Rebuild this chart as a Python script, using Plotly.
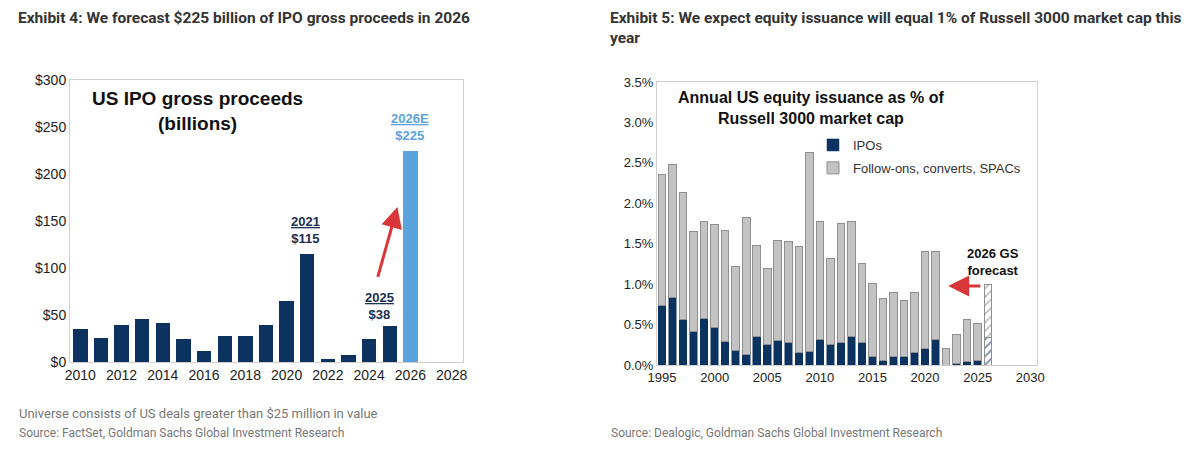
import plotly.graph_objects as go

# Exhibit 4: US IPO gross proceeds ($bn)
ipo_years = list(range(2010, 2027))
ipo_proceeds = [35, 26, 39, 46, 42, 24, 12, 28, 28, 39, 65, 115, 3.5, 7, 24, 38, 225]

# Exhibit 5: equity issuance as % of Russell 3000 market cap
iss_years = list(range(1995, 2026))
iss_total = [2.35, 2.48, 2.13, 1.65, 1.77, 1.74, 1.66, 1.22, 1.82, 1.48,
             1.19, 1.54, 1.53, 1.47, 2.63, 1.77, 1.32, 1.75, 1.77, 1.26,
             1.01, 0.82, 0.90, 0.80, 0.90, 1.40, 1.40, 0.21, 0.38, 0.56, 0.51]
iss_ipo = [0.74, 0.84, 0.56, 0.41, 0.58, 0.47, 0.29, 0.18, 0.13, 0.35,
           0.25, 0.30, 0.28, 0.16, 0.17, 0.31, 0.25, 0.28, 0.35, 0.28,
           0.11, 0.05, 0.11, 0.11, 0.16, 0.20, 0.31, 0.0, 0.02, 0.04, 0.06]
iss_other = [round(t - i, 2) for t, i in zip(iss_total, iss_ipo)]
fc_year = [2026]
fc_ipo = [0.34]
fc_other = [0.66]

navy = '#0c3260'
light_blue = '#5ba3dc'
gray = '#c3c3c3'
gray_line = '#8f8f8f'
chart_font = 'Liberation Sans, Arial, sans-serif'
page_font = 'Roboto, sans-serif'

OFF = 8  # margem padrão do <body> da página
W, H = 1198 - OFF, 453 - OFF

def px(x, y):  # converte pixels da janela para coordenadas paper
    return (x - OFF) / W, 1 - (y - OFF) / H

def dom_x(a, b):
    return [(a - OFF) / W, (b - OFF) / W]

def dom_y(top, bottom):
    return [1 - (bottom - OFF) / H, 1 - (top - OFF) / H]

fig = go.Figure()

# Gráfico da esquerda
fig.add_trace(go.Bar(x=ipo_years, y=ipo_proceeds, width=0.7,
                     marker=dict(color=[light_blue if y == 2026 else navy for y in ipo_years], line_width=0),
                     showlegend=False, xaxis='x', yaxis='y'))

# Gráfico da direita
fig.add_trace(go.Bar(x=iss_years, y=iss_ipo, width=0.72, name='IPOs', legendgroup='a',
                     marker=dict(color=navy, line=dict(color=navy, width=0.5)),
                     xaxis='x2', yaxis='y2'))
fig.add_trace(go.Bar(x=iss_years, y=iss_other, width=0.72, name='Follow-ons, converts, SPACs', legendgroup='b',
                     marker=dict(color=gray, line=dict(color=gray_line, width=1)),
                     xaxis='x2', yaxis='y2'))
fig.add_trace(go.Bar(x=fc_year, y=fc_ipo, width=0.72, showlegend=False,
                     marker=dict(color='white', line=dict(color=gray_line, width=1),
                                 pattern=dict(shape='/', fgcolor=navy, bgcolor='white', size=6, solidity=0.35)),
                     xaxis='x2', yaxis='y2'))
fig.add_trace(go.Bar(x=fc_year, y=fc_other, width=0.72, showlegend=False,
                     marker=dict(color='white', line=dict(color=gray_line, width=1),
                                 pattern=dict(shape='/', fgcolor=gray_line, bgcolor='white', size=6, solidity=0.35)),
                     xaxis='x2', yaxis='y2'))

axis_style = dict(showline=True, linecolor='#cfcfcf', linewidth=1, mirror=True, showgrid=False,
                  zeroline=False, ticks='', automargin=False)

lx, ly = px(813, 130)
fig.update_layout(
    width=W, height=H,
    margin=dict(l=0, r=0, t=0, b=0, pad=0, autoexpand=False),
    paper_bgcolor='white', plot_bgcolor='white',
    barmode='stack',
    font=dict(family=chart_font, color='#222'),
    xaxis=dict(domain=dom_x(70, 463), range=[2009.5, 2028.55], dtick=2, anchor='y',
               tickfont_size=14, **axis_style),
    yaxis=dict(domain=dom_y(80, 362), range=[0, 300], dtick=50, tickprefix='$', anchor='x',
               tickfont_size=14, **axis_style),
    xaxis2=dict(domain=dom_x(657, 1037), range=[1994.52, 2030.64], dtick=5, anchor='y2',
                tickfont_size=13, **axis_style),
    yaxis2=dict(domain=dom_y(82, 365), range=[0, 3.5], dtick=0.5, tickformat='.1f',
                ticksuffix='%', anchor='x2', tickfont_size=13, **axis_style),
    legend=dict(x=lx, y=ly, xanchor='left', yanchor='top', bgcolor='rgba(0,0,0,0)',
                font=dict(size=13, color='#333'), tracegroupgap=3, itemwidth=30),
)

ann = []
# Títulos das exhibits (ancorados no topo do papel)
x0, _ = px(17, 0)
ann.append(dict(x=x0, y=1, xref='paper', yref='paper', xanchor='left', yanchor='top', borderpad=0,
                text='<b>Exhibit 4: We forecast $225 billion of IPO gross proceeds in 2026</b>',
                font=dict(family=page_font, size=15.5, color='#333'), showarrow=False))
x0, _ = px(609, 0)
ann.append(dict(x=x0, y=1, xref='paper', yref='paper', xanchor='left', yanchor='top', align='left', borderpad=0,
                text='<b>Exhibit 5: We expect equity issuance will equal 1% of Russell 3000 market cap this</b><br><b>year</b>',
                font=dict(family=page_font, size=15.5, color='#333'), showarrow=False))
# Notas de rodapé
x0, y0 = px(17, 413)
ann.append(dict(x=x0, y=y0, xref='paper', yref='paper', xanchor='left', yanchor='middle',
                text='Universe consists of US deals greater than $25 million in value',
                font=dict(family=page_font, size=13, color='#777'), showarrow=False))
x0, y0 = px(17, 433)
ann.append(dict(x=x0, y=y0, xref='paper', yref='paper', xanchor='left', yanchor='middle',
                text='Source: FactSet, Goldman Sachs Global Investment Research',
                font=dict(family=page_font, size=12, color='#777'), showarrow=False))
x0, y0 = px(609, 433)
ann.append(dict(x=x0, y=y0, xref='paper', yref='paper', xanchor='left', yanchor='middle',
                text='Source: Dealogic, Goldman Sachs Global Investment Research',
                font=dict(family=page_font, size=12, color='#777'), showarrow=False))
# Anotações do gráfico da esquerda
ann.append(dict(x=2015.7, y=267, xref='x', yref='y', showarrow=False,
                text='<b>US IPO gross proceeds<br>(billions)</b>', font=dict(size=19, color='#111')))
ann.append(dict(x=2020.9, y=121, xref='x', yref='y', yanchor='bottom', showarrow=False,
                text='<b><u>2021</u><br>$115</b>', font=dict(size=13, color='#1c2f4f')))
ann.append(dict(x=2024.5, y=40, xref='x', yref='y', yanchor='bottom', showarrow=False,
                text='<b><u>2025</u><br>$38</b>', font=dict(size=13, color='#1c2f4f')))
ann.append(dict(x=2026.0, y=231, xref='x', yref='y', yanchor='bottom', showarrow=False,
                text='<b><u>2026E</u><br>$225</b>', font=dict(size=13, color=light_blue)))
ann.append(dict(x=2025.37, y=165, xref='x', yref='y', ax=2024.4, ay=89, axref='x', ayref='y',
                showarrow=True, arrowhead=2, arrowsize=1.4, arrowwidth=3, arrowcolor='#d9363a', text=''))
# Anotações do gráfico da direita
ann.append(dict(x=2009.2, y=3.18, xref='x2', yref='y2', showarrow=False,
                text='<b>Annual US equity issuance as % of<br>Russell 3000 market cap</b>',
                font=dict(size=16, color='#111')))
ann.append(dict(x=2026.46, y=1.27, xref='x2', yref='y2', showarrow=False,
                text='<b>2026 GS<br>forecast</b>', font=dict(size=13, color='#111')))
ann.append(dict(x=2022.2, y=0.977, xref='x2', yref='y2', ax=2025.4, ay=0.977, axref='x2', ayref='y2',
                showarrow=True, arrowhead=2, arrowsize=1.4, arrowwidth=3, arrowcolor='#d9363a', text=''))
fig.update_layout(annotations=ann)

fig.write_html("out.html")
